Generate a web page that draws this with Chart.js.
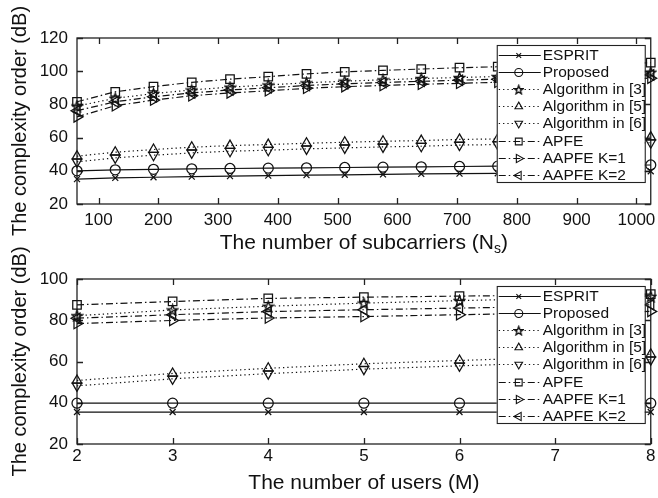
<!DOCTYPE html>
<html>
<head>
<meta charset="utf-8">
<script src="https://cdn.jsdelivr.net/npm/chart.js@4.4.1/dist/chart.umd.min.js"></script>
<style>
  html, body { margin: 0; padding: 0; background: #fff; }
  #wrap { position: relative; width: 658px; height: 498px; }
  .panel { position: absolute; left: 0; width: 658px; height: 262px; }
  #top { top: 0; }
  #bottom { top: 236px; }
</style>
</head>
<body>
<div id="wrap">
  <div class="panel" id="top"><canvas id="chartTop"></canvas></div>
  <div class="panel" id="bottom"><canvas id="chartBottom"></canvas></div>
</div>
<script>
const FONT = '"Liberation Sans", Arial, Helvetica, sans-serif';
const INK = '#111';

const seriesNames = ['ESPRIT', 'Proposed', 'Algorithm in [3]', 'Algorithm in [5]',
  'Algorithm in [6]', 'APFE', 'AAPFE K=1', 'AAPFE K=2'];

// complexity vs number of subcarriers
const subcarriers = [64, 128, 192, 256, 320, 384, 448, 512, 576, 640, 704, 768, 832, 896, 960, 1024];
const subXTicks = [100, 200, 300, 400, 500, 600, 700, 800, 900, 1000];
const subYTicks = [20, 40, 60, 80, 100, 120];
const subEsprit   = [35.0, 35.7, 36.1, 36.5, 36.8, 37.1, 37.4, 37.6, 37.8, 38.1, 38.3, 38.5, 38.8, 39.0, 39.3, 39.7];
const subProposed = [40.0, 40.6, 40.9, 41.2, 41.4, 41.6, 41.8, 42.0, 42.2, 42.4, 42.6, 42.8, 43.0, 43.1, 43.3, 43.5];
const subAlg3     = [79.0, 83.7, 86.5, 88.7, 90.4, 91.7, 93.0, 94.0, 94.8, 95.6, 96.2, 96.8, 97.4, 98.0, 98.6, 99.4];
const subAlg5     = [48.8, 51.2, 52.8, 54.2, 55.2, 55.8, 56.6, 57.2, 57.8, 58.2, 58.9, 59.2, 59.5, 59.8, 60.1, 60.3];
const subAlg6     = [45.4, 47.8, 49.4, 50.8, 51.8, 52.4, 53.2, 53.8, 54.4, 54.8, 55.5, 55.8, 56.1, 56.4, 56.7, 56.9];
const subApfe     = [81.6, 87.6, 90.7, 93.3, 95.2, 96.7, 98.4, 99.6, 100.5, 101.3, 102.1, 102.7, 103.3, 103.9, 104.5, 105.1];
const subK1       = [72.5, 79.2, 82.6, 85.2, 86.9, 88.2, 89.7, 90.7, 91.4, 92.1, 92.7, 93.3, 93.9, 94.5, 95.1, 95.8];
const subK2       = [76.2, 81.6, 84.6, 86.9, 88.7, 90.0, 91.4, 92.4, 93.2, 93.9, 94.6, 95.2, 95.8, 96.4, 97.0, 97.8];

// complexity vs number of users
const users = [2, 3, 4, 5, 6, 7, 8];
const userXTicks = [2, 3, 4, 5, 6, 7, 8];
const userYTicks = [20, 40, 60, 80, 100];
const userEsprit   = [35.5, 35.5, 35.5, 35.5, 35.5, 35.5, 35.5];
const userProposed = [39.8, 39.8, 39.8, 39.8, 39.8, 39.8, 39.8];
const userAlg3     = [82.2, 85.0, 86.8, 88.3, 89.5, 90.6, 91.6];
const userAlg5     = [50.8, 54.2, 56.7, 58.9, 60.5, 62.0, 63.5];
const userAlg6     = [48.2, 51.6, 54.1, 56.3, 57.9, 59.4, 60.9];
const userApfe     = [87.5, 89.1, 90.6, 91.2, 91.7, 92.2, 92.7];
const userK1       = [78.4, 79.9, 81.1, 81.8, 82.7, 83.5, 84.3];
const userK2       = [81.0, 82.7, 84.2, 85.1, 85.9, 86.7, 87.5];

// five-pointed star marker (Chart.js has no such point style)
function makeStar(size) {
  const c = document.createElement('canvas');
  c.width = c.height = size;
  const g = c.getContext('2d');
  const cx = size / 2, cy = size / 2 + 0.6, R = size / 2 - 1, r = R * 0.42;
  g.beginPath();
  for (let i = 0; i < 10; i++) {
    const a = -Math.PI / 2 + i * Math.PI / 5;
    const rr = i % 2 ? r : R;
    g.lineTo(cx + rr * Math.cos(a), cy + rr * Math.sin(a));
  }
  g.closePath();
  g.strokeStyle = INK;
  g.lineWidth = 1.4;
  g.stroke();
  return c;
}
const starPlot = makeStar(13);
const starLegend = makeStar(11);

const DOTTED = [1.3, 3];
const DASHDOT = [7, 3, 1.5, 3];
const styles = [
  { dash: [], point: 'crossRot', rot: 0, r: 4.2 },
  { dash: [], point: 'circle', rot: 0, r: 5 },
  { dash: DOTTED, point: starPlot, legendPoint: starLegend, rot: 0, r: 6 },
  { dash: DOTTED, point: 'triangle', rot: 0, r: 5.5 },
  { dash: DOTTED, point: 'triangle', rot: 180, r: 5.5 },
  { dash: DASHDOT, point: 'rect', rot: 0, r: 6 },
  { dash: DASHDOT, point: 'triangle', rot: 90, r: 6 },
  { dash: DASHDOT, point: 'triangle', rot: 270, r: 6 }
];

function buildDatasets(xs, series) {
  return series.map((ys, i) => ({
    label: seriesNames[i],
    data: xs.map((x, k) => ({ x: x, y: ys[k] })),
    borderColor: INK,
    borderWidth: 1.2,
    borderDash: styles[i].dash,
    pointStyle: styles[i].point,
    pointRotation: styles[i].rot,
    pointRadius: styles[i].r,
    pointHoverRadius: styles[i].r,
    pointBorderColor: INK,
    pointBackgroundColor: 'rgba(0,0,0,0)',
    pointBorderWidth: 1.25,
    fill: false,
    tension: 0,
    clip: false
  }));
}

// box round the plot area with inward ticks on all four sides
const framePlugin = {
  id: 'frame',
  beforeDatasetsDraw(chart) {
    const { ctx, chartArea: a, scales: { x, y } } = chart;
    ctx.save();
    ctx.strokeStyle = '#222';
    ctx.lineWidth = 1.3;
    ctx.strokeRect(a.left, a.top, a.right - a.left, a.bottom - a.top);
    ctx.beginPath();
    x.ticks.forEach(t => {
      const px = Math.round(x.getPixelForValue(t.value)) + 0.5;
      ctx.moveTo(px, a.bottom); ctx.lineTo(px, a.bottom - 6);
      ctx.moveTo(px, a.top); ctx.lineTo(px, a.top + 6);
    });
    y.ticks.forEach(t => {
      const py = Math.round(y.getPixelForValue(t.value)) + 0.5;
      ctx.moveTo(a.left, py); ctx.lineTo(a.left + 6, py);
      ctx.moveTo(a.right, py); ctx.lineTo(a.right - 6, py);
    });
    ctx.stroke();
    ctx.restore();
  },
  afterDraw(chart, args, opts) {
    const { ctx, chartArea: a } = chart;
    ctx.save();
    ctx.fillStyle = INK;

    // y-axis title
    ctx.save();
    ctx.translate(20, (a.top + a.bottom) / 2);
    ctx.rotate(-Math.PI / 2);
    ctx.font = '20px ' + FONT;
    ctx.textAlign = 'center';
    ctx.textBaseline = 'middle';
    ctx.fillText('The complexity order (dB)', 0, 0);
    ctx.restore();

    // x-axis title, with optional subscript
    const main = '21px ' + FONT, small = '14px ' + FONT;
    ctx.font = main;
    const w1 = ctx.measureText(opts.xTitle).width;
    const w3 = ctx.measureText(opts.xTitleEnd || '').width;
    ctx.font = small;
    const w2 = opts.xSub ? ctx.measureText(opts.xSub).width : 0;
    let cx = (a.left + a.right) / 2 - (w1 + w2 + w3) / 2;
    ctx.textAlign = 'left';
    ctx.textBaseline = 'alphabetic';
    ctx.font = main;
    ctx.fillText(opts.xTitle, cx, opts.titleY);
    cx += w1;
    if (opts.xSub) {
      ctx.font = small;
      ctx.fillText(opts.xSub, cx, opts.titleY + 4);
      cx += w2;
      ctx.font = main;
      ctx.fillText(opts.xTitleEnd, cx, opts.titleY);
    }

    // legend box, top right inside the plot
    const lw = 148, lh = 137;
    const left = a.right - 6 - lw, top = a.top + 7;
    ctx.fillStyle = '#fff';
    ctx.fillRect(left, top, lw, lh);
    ctx.strokeStyle = '#222';
    ctx.lineWidth = 1.1;
    ctx.strokeRect(left + 0.5, top + 0.5, lw, lh);
    chart.data.datasets.forEach((ds, i) => {
      const cy = Math.round(top + 10 + i * 17.1) + 0.5;
      ctx.strokeStyle = INK;
      ctx.lineWidth = 1.1;
      ctx.setLineDash(ds.borderDash);
      ctx.beginPath();
      ctx.moveTo(left + 2, cy);
      ctx.lineTo(left + 44, cy);
      ctx.stroke();
      ctx.setLineDash([]);
      ctx.fillStyle = 'rgba(0,0,0,0)';
      Chart.helpers.drawPoint(ctx, {
        pointStyle: styles[i].legendPoint || ds.pointStyle,
        rotation: ds.pointRotation,
        radius: ds.pointRadius * 0.8,
        borderWidth: 1.1
      }, left + 22, cy);
      ctx.fillStyle = INK;
      ctx.font = '15.5px ' + FONT;
      ctx.textAlign = 'left';
      ctx.textBaseline = 'middle';
      ctx.fillText(ds.label, left + 46, cy + 0.5);
    });
    ctx.restore();
  }
};

function makeChart(id, xs, series, xMin, xMax, xTicks, yMin, yMax, yTicks, padTop, xAxisHeight, xLabelPad, titleOpts) {
  const tickFont = { family: FONT, size: 17 };
  return new Chart(document.getElementById(id), {
    type: 'line',
    data: { datasets: buildDatasets(xs, series) },
    options: {
      responsive: true,
      maintainAspectRatio: false,
      animation: false,
      events: [],
      layout: { padding: { top: padTop, right: 7, left: 0, bottom: 0 } },
      plugins: {
        legend: { display: false },
        tooltip: { enabled: false },
        frame: titleOpts
      },
      scales: {
        x: {
          type: 'linear',
          min: xMin,
          max: xMax,
          afterBuildTicks: s => { s.ticks = xTicks.map(v => ({ value: v })); },
          afterFit: s => { s.height = xAxisHeight; },
          grid: { display: false },
          border: { display: false },
          ticks: {
            font: tickFont, color: INK, padding: xLabelPad, maxRotation: 0, autoSkip: false,
            callback: v => String(v)
          }
        },
        y: {
          min: yMin,
          max: yMax,
          afterBuildTicks: s => { s.ticks = yTicks.map(v => ({ value: v })); },
          afterFit: s => { s.width = 77; },
          grid: { display: false },
          border: { display: false },
          ticks: { font: tickFont, color: INK, padding: 1, callback: v => String(v) }
        }
      }
    },
    plugins: [framePlugin]
  });
}

makeChart('chartTop', subcarriers,
  [subEsprit, subProposed, subAlg3, subAlg5, subAlg6, subApfe, subK1, subK2],
  64, 1024, subXTicks, 20, 120, subYTicks, 38, 58, -2,
  { xTitle: 'The number of subcarriers (N', xSub: 's', xTitleEnd: ')', titleY: 249 });

makeChart('chartBottom', users,
  [userEsprit, userProposed, userAlg3, userAlg5, userAlg6, userApfe, userK1, userK2],
  2, 8, userXTicks, 20, 100, userYTicks, 43, 54, -6,
  { xTitle: 'The number of users (M)', titleY: 253 });
</script>
</body>
</html>
